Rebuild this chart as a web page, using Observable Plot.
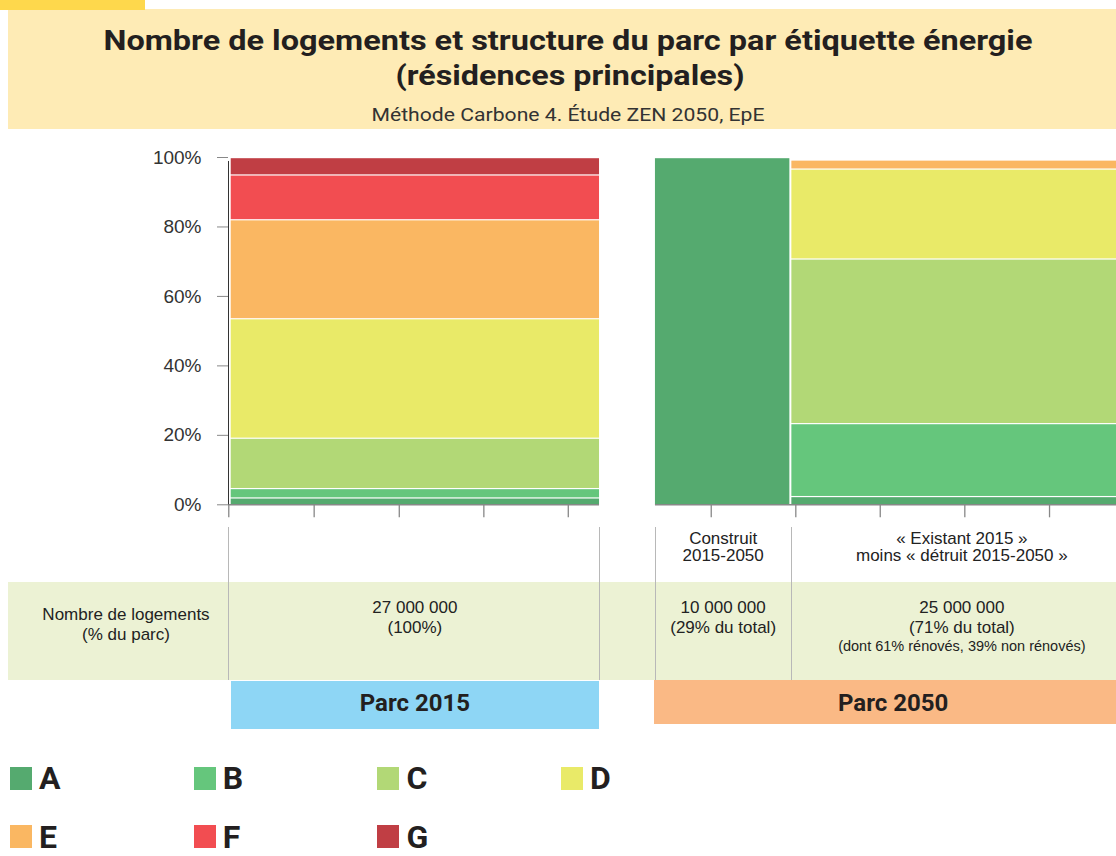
<!DOCTYPE html>
<html><head><meta charset="utf-8">
<script src="https://cdn.jsdelivr.net/npm/d3@7"></script>
<script src="https://cdn.jsdelivr.net/npm/@observablehq/plot@0.6"></script>
<style>
body{margin:0;background:#fff;}
#page{position:relative;width:1116px;height:856px;overflow:hidden;font-family:"Liberation Sans",Arial,sans-serif;color:#222;}
.box{position:absolute;}
.t{position:absolute;white-space:nowrap;line-height:1;}
#chart{position:absolute;left:0;top:140px;}
</style></head><body><div id="page"></div>
<script>
// ---- data ----
const energyClasses = ["A","B","C","D","E","F","G"];
const classColors = ["#55aa6f","#65c67c","#b2d876","#e9ea68","#fab762","#f24d51","#c03e44"];
const share2015 = [2.0, 2.7, 14.5, 34.4, 28.5, 12.9, 5.0];      // % du parc 2015
const shareConstruit = [100, 0, 0, 0, 0, 0, 0];                  // construit 2015-2050
const shareExistant = [2.4, 21.0, 47.4, 25.9, 2.6, 0, 0];        // existant 2015 moins détruit
const groupKeys = ["parc2015","construit","existant"];
const groupCounts = [27, 10, 25];                                // millions de logements
const countLabels = ["27 000 000", "10 000 000", "25 000 000"];
const pctLabels = ["(100%)", "(29% du total)", "(71% du total)"];
const yTicks = [0, 20, 40, 60, 80, 100];
const xTicks = [-0.18, 6.08, 12.32, 18.52, 24.71, 35.19, 41.39, 47.58, 53.78, 59.99];

// ---- layout ----
const panel2Start = 31.1;
const starts = [0, panel2Start, panel2Start + groupCounts[1]];
const shares = [share2015, shareConstruit, shareExistant];
const rows = [];
groupKeys.forEach((g, i) => {
  let acc = 0;
  energyClasses.forEach((c, j) => {
    const v = shares[i][j];
    if (v > 0) rows.push({group: g, cls: c, x1: starts[i], x2: starts[i] + groupCounts[i], y1: acc, y2: acc + v});
    acc += v;
  });
});
const axisSegments = [{a: -0.2, b: groupCounts[0]}, {a: panel2Start, b: 64.9}];

const plot = Plot.plot({
  width: 1116, height: 385,
  marginLeft: 228, marginRight: 0, marginTop: 17, marginBottom: 20.7,
  x: {domain: [-0.2, 64.9]},
  y: {domain: [0, 100]},
  color: {domain: energyClasses, range: classColors},
  style: {fontFamily: "Liberation Sans, Arial, sans-serif", background: "transparent"},
  marks: [
    Plot.rect(rows.filter(d => d.group !== "construit"), {x1: "x1", x2: "x2", y1: "y1", y2: "y2", fill: "cls", insetTop: 1.2, clip: true}),
    Plot.rect(rows.filter(d => d.group === "construit"), {x1: "x1", x2: "x2", y1: "y1", y2: "y2", fill: "cls", insetTop: 1.2, insetRight: 2}),
    Plot.ruleY(axisSegments, {y: 0, x1: "a", x2: "b", stroke: "#888", strokeWidth: 1.5}),
    Plot.axisX({ticks: xTicks, tickSize: 13, tickFormat: () => "", stroke: "#888", strokeWidth: 1.3, label: null}),
    Plot.axisY({ticks: yTicks, tickSize: 11, tickPadding: 16, tickFormat: d => d + "%", fontSize: 19, fill: "#333", stroke: "#888", label: null}),
    Plot.ruleX([-0.2], {y1: 0, y2: 102.6, stroke: "#333", insetBottom: -13})
  ]
});
plot.id = "chart";
const page = document.getElementById("page");
const X = plot.scale("x").apply;

function box(l, t, w, h, bg) {
  const d = document.createElement("div");
  d.className = "box";
  Object.assign(d.style, {left: l + "px", top: t + "px", width: w + "px", height: h + "px", background: bg});
  page.appendChild(d);
  return d;
}
function txt(x, base, s, o = {}) {
  const size = o.size || 17;
  const d = document.createElement("div");
  d.className = "t";
  d.textContent = s;
  Object.assign(d.style, {
    fontSize: size + "px",
    fontFamily: o.family || "Liberation Sans, Arial, sans-serif",
    fontWeight: o.weight || 400,
    color: o.color || "#222",
    left: x + "px",
    top: (base - 0.845 * size) + "px"
  });
  page.appendChild(d);
  const align = o.align || "center";
  if (align === "center") {
    let tr = "translateX(-50%)";
    if (o.fitWidth) {
      const w = d.getBoundingClientRect().width;
      tr += ` scaleX(${o.fitWidth / w})`;
    }
    d.style.transform = tr;
  }
  return d;
}

// title block
box(8, 9, 1108, 120, "#feebb5");
box(0, 0, 145, 10, "#fed84c");
txt(567.5, 50.7, "Nombre de logements et structure du parc par étiquette énergie", {size: 28, weight: 700, family: "Roboto", color: "#231f20", fitWidth: 929});
txt(569.5, 86, "(résidences principales)", {size: 28, weight: 700, family: "Roboto", color: "#231f20", fitWidth: 349});
txt(568, 120.7, "Méthode Carbone 4. Étude ZEN 2050, EpE", {size: 19, weight: 400, family: "Roboto", color: "#333", fitWidth: 393});

page.appendChild(plot);

// table
box(8, 582, 1108, 98, "#ecf2d4");
[X(-0.2), X(starts[0] + groupCounts[0]), X(starts[1]), X(starts[2])].forEach(x => box(Math.round(x) - 0.5, 527, 1, 153, "#b8b8b8"));
const cx = groupKeys.map((g, i) => X(starts[i] + groupCounts[i] / 2));
txt(cx[1], 544, "Construit");
txt(cx[1], 561, "2015-2050");
txt(cx[2], 544, "« Existant 2015 »");
txt(cx[2], 561, "moins « détruit 2015-2050 »");
txt(126, 620, "Nombre de logements");
txt(126, 640, "(% du parc)");
groupKeys.forEach((g, i) => {
  txt(cx[i], 613, countLabels[i]);
  txt(cx[i], 633, pctLabels[i]);
});
txt(cx[2], 651, "(dont 61% rénovés, 39% non rénovés)", {size: 14.5});

// parc header boxes
const b1l = X(starts[0]), b1r = X(starts[0] + groupCounts[0]);
box(b1l, 681, b1r - b1l, 48, "#8ed6f5");
txt((b1l + b1r) / 2, 711.7, "Parc 2015", {size: 24, weight: 700, family: "Roboto", color: "#231f20"});
const b2l = X(starts[1]) - 1, b2r = X(starts[2] + groupCounts[2]);
box(b2l, 680, b2r - b2l, 44, "#fab985");
txt((b2l + b2r) / 2, 711.7, "Parc 2050", {size: 24, weight: 700, family: "Roboto", color: "#231f20"});

// legend
energyClasses.forEach((c, i) => {
  const col = i % 4, row = Math.floor(i / 4);
  const lx = 10 + col * 183.7, ly = 766.5 + row * 58.5;
  box(lx, ly, 22, 23, classColors[i]);
  txt(lx + 29, ly + 23, c, {size: 32, weight: 700, family: "Roboto", color: "#231f20", align: "left"});
});
</script></body></html>
